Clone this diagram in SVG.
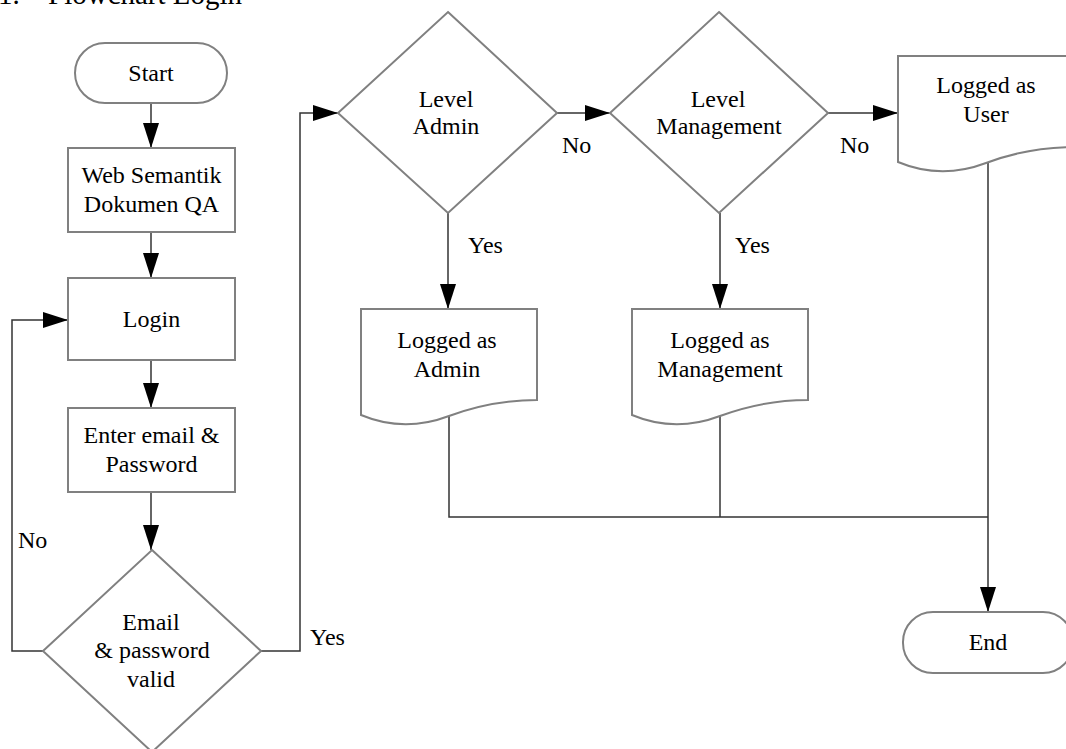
<svg xmlns="http://www.w3.org/2000/svg" width="1066" height="749" viewBox="0 0 1066 749">
<style>
.n{fill:#fff;stroke:#808080;stroke-width:2}
.c{fill:none;stroke:#333;stroke-width:1.5}
text{font-family:"Liberation Serif","Times New Roman",serif;font-size:24px;fill:#000;text-anchor:middle}
.l{text-anchor:start}
.t{font-size:29px;text-anchor:start}
</style>
<defs>
<marker id="a" markerUnits="userSpaceOnUse" markerWidth="25" markerHeight="16" refX="25" refY="8" orient="auto">
<path d="M0,0 L25,8 L0,16 z" fill="#000"/>
</marker>
</defs>
<text class="t" x="-2" y="4">1.</text>
<text class="t" x="48" y="4">Flowchart Login</text>
<g id="connectors">
<path class="c" d="M151,103 V148" marker-end="url(#a)"/>
<path class="c" d="M151,232 V278" marker-end="url(#a)"/>
<path class="c" d="M151,360 V408" marker-end="url(#a)"/>
<path class="c" d="M151,492 V550" marker-end="url(#a)"/>
<path class="c" d="M43,651 H12 V320 H68" marker-end="url(#a)"/>
<path class="c" d="M261,651 H300 V113 H338" marker-end="url(#a)"/>
<path class="c" d="M557,113 H610" marker-end="url(#a)"/>
<path class="c" d="M448,213 V309" marker-end="url(#a)"/>
<path class="c" d="M828,113 H898" marker-end="url(#a)"/>
<path class="c" d="M720,213 V309" marker-end="url(#a)"/>
<path class="c" d="M449,416 V517 H988"/>
<path class="c" d="M720,416 V517"/>
<path class="c" d="M988,163 V612" marker-end="url(#a)"/>
</g>
<g id="start">
<rect class="n" x="75" y="43" width="152" height="60" rx="30"/>
<text x="151" y="81">Start</text>
</g>
<g id="web">
<rect class="n" x="68" y="148" width="167" height="84"/>
<text x="151.5" y="183">Web Semantik</text>
<text x="151.5" y="212">Dokumen QA</text>
</g>
<g id="login">
<rect class="n" x="68" y="278" width="167" height="82"/>
<text x="151.5" y="327">Login</text>
</g>
<g id="enter">
<rect class="n" x="68" y="408" width="167" height="84"/>
<text x="151.5" y="443">Enter email &amp;</text>
<text x="151.5" y="472">Password</text>
</g>
<g id="valid">
<path class="n" d="M152,550 L261,651 L152,752 L43,651 Z"/>
<text x="151" y="630">Email</text>
<text x="152" y="658">&amp; password</text>
<text x="151" y="687">valid</text>
</g>
<g id="leveladmin">
<path class="n" d="M448,12 L557,113 L448,213 L338,113 Z"/>
<text x="446" y="107">Level</text>
<text x="446" y="134">Admin</text>
</g>
<g id="levelmgmt">
<path class="n" d="M719,12 L828,113 L719,213 L610,113 Z"/>
<text x="718" y="107">Level</text>
<text x="719" y="134">Management</text>
</g>
<g id="loggeduser">
<path class="n" d="M898,56 H1074 V147 Q1029,147 986,163 Q941,180 898,162 Z"/>
<text x="986" y="93">Logged as</text>
<text x="986" y="122">User</text>
</g>
<g id="loggedadmin">
<path class="n" d="M361,309 H537 V400 Q492,400 449,416 Q404,433 361,415 Z"/>
<text x="447" y="348">Logged as</text>
<text x="447" y="377">Admin</text>
</g>
<g id="loggedmgmt">
<path class="n" d="M632,309 H808 V400 Q763,400 720,416 Q675,433 632,415 Z"/>
<text x="720" y="348">Logged as</text>
<text x="720" y="377">Management</text>
</g>
<g id="end">
<rect class="n" x="903" y="612" width="170" height="61" rx="30"/>
<text x="988" y="650">End</text>
</g>
<g id="labels">
<text class="l" x="18" y="548">No</text>
<text class="l" x="310" y="645">Yes</text>
<text class="l" x="562" y="153">No</text>
<text class="l" x="468" y="253">Yes</text>
<text class="l" x="840" y="153">No</text>
<text class="l" x="735" y="253">Yes</text>
</g>
</svg>
